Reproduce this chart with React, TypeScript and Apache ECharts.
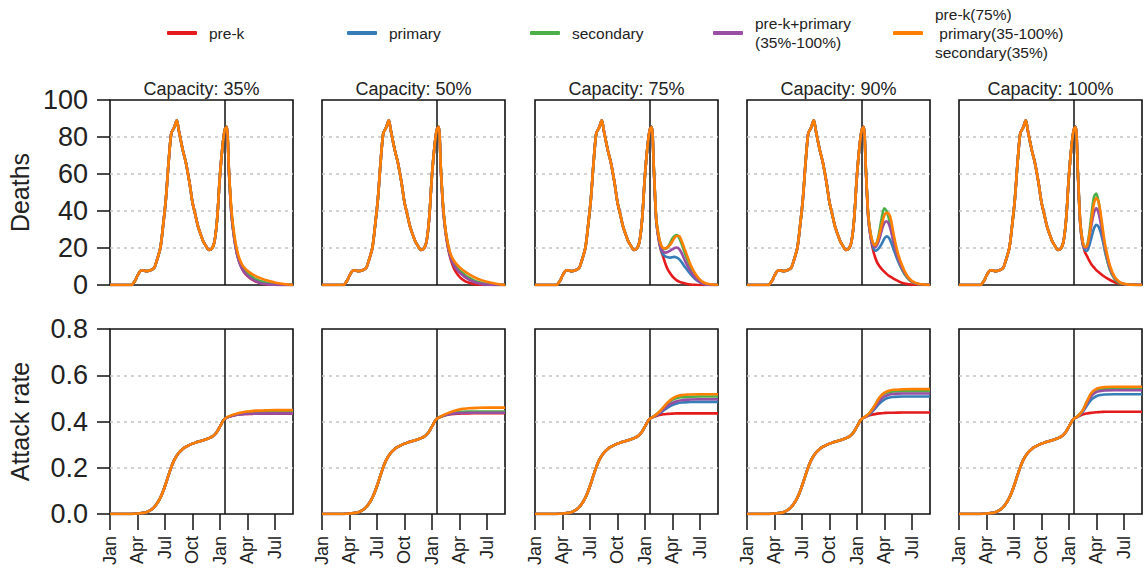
import React, { useEffect, useRef } from "react";
import * as echarts from "echarts";

// ---------- categories / labels ----------
const capacities = [35, 50, 75, 90, 100];
const seriesNames = ["pre-k", "primary", "secondary", "pre-k+primary", "mixed"];
const legendLabels = [
  "pre-k",
  "primary",
  "secondary",
  "pre-k+primary\n(35%-100%)",
  "pre-k(75%)\n primary(35-100%)\nsecondary(35%)",
];
const seriesColors = ["#E41A1C", "#377EB8", "#4DAF4A", "#984EA3", "#FF7F00"];
const tickMonths = [0, 3, 6, 9, 12, 15, 18];
const tickLabels = ["Jan", "Apr", "Jul", "Oct", "Jan", "Apr", "Jul"];
const interventionMonth = 12.55;

// ---------- deaths: shared part (months since Jan, year 1) ----------
const commonDeathMonths = [0, 2.3, 2.7, 3.0, 3.3, 3.6, 4.0, 4.4, 4.8, 5.1, 5.5, 5.8, 6.1, 6.4, 6.7, 7.0, 7.3, 7.5, 7.7, 8.0, 8.3, 8.7, 9.0, 9.3, 9.6, 9.9, 10.2, 10.5, 10.8, 11.1, 11.4, 11.7, 12.0, 12.3, 12.55];
const commonDeaths = [0, 0, 2, 5, 7.5, 8, 7.5, 8, 9, 13, 20, 32, 46, 66, 82, 85, 89, 84, 79, 72, 66, 55, 45, 38.5, 32, 27.5, 23.5, 21, 19, 19.5, 23, 35, 58, 75, 84];

// ---------- deaths after school reopening ----------
const postDeathMonths = [12.75, 13.0, 13.25, 13.5, 13.75, 14.0, 14.25, 14.5, 14.75, 15.0, 15.25, 15.5, 15.75, 16.0, 16.5, 17.0, 17.5, 18.0, 18.5, 19.0, 20.0];

const deathsPreK35 = [85.5, 61, 40, 28, 20, 14.5, 10.8, 8.2, 6.3, 5, 3.9, 3, 2.3, 1.7, 0.9, 0.4, 0.2, 0.1, 0, 0, 0];
const deathsPrimary35 = [85.5, 61, 40, 28, 20, 14.5, 11, 8.5, 6.8, 5.5, 4.4, 3.5, 2.8, 2.2, 1.3, 0.7, 0.4, 0.2, 0.1, 0, 0];
const deathsSecondary35 = [85.5, 62, 41, 29, 21, 15.5, 12, 9.5, 7.8, 6.5, 5.5, 4.5, 3.7, 3, 2, 1.3, 0.8, 0.4, 0.2, 0.1, 0];
const deathsPreKPrimary35 = [85.5, 61, 40, 28, 20, 14.5, 11, 8.3, 6.5, 5.2, 4.1, 3.2, 2.5, 1.9, 1.0, 0.5, 0.2, 0.1, 0, 0, 0];
const deathsMixed35 = [85.5, 62, 42, 30, 22, 16.5, 13, 10.5, 9, 7.8, 6.8, 6, 5.3, 4.6, 3.6, 2.7, 2, 1.4, 0.9, 0.5, 0];

const deathsPreK50 = [85.5, 61, 40.5, 28.5, 20.5, 15, 11, 8.2, 6.2, 4.6, 3.4, 2.5, 1.8, 1.3, 0.6, 0.3, 0.1, 0, 0, 0, 0];
const deathsPrimary50 = [85.5, 61.5, 41, 29, 21.5, 16, 12.5, 10, 8.5, 7.2, 6, 5, 4.1, 3.3, 2.1, 1.2, 0.7, 0.3, 0.1, 0, 0];
const deathsSecondary50 = [85.5, 62, 41.5, 29.5, 22, 17, 13.5, 11, 9.5, 8.2, 7, 6, 5, 4.2, 2.8, 1.8, 1.1, 0.6, 0.3, 0.1, 0];
const deathsPreKPrimary50 = [85.5, 61.5, 41, 29, 21.5, 16, 12.5, 10, 8.3, 7, 5.8, 4.8, 3.9, 3.1, 1.9, 1.1, 0.6, 0.3, 0.1, 0, 0];
const deathsMixed50 = [85.5, 62, 42, 30, 22.5, 17.5, 14.5, 12.5, 11, 9.8, 8.7, 7.7, 6.8, 6, 4.6, 3.4, 2.5, 1.8, 1.2, 0.7, 0];

const deathsPreK75 = [85.5, 61, 35, 25, 19, 15.3, 11.5, 8.5, 6.5, 4.8, 3.5, 2.5, 1.8, 1.3, 0.7, 0.3, 0.1, 0, 0, 0, 0];
const deathsPrimary75 = [85.5, 61, 35, 25.5, 19.5, 16.5, 15.5, 15, 14.8, 15, 15.2, 14.8, 14, 12.5, 9, 5.8, 3.2, 1.5, 0.5, 0.2, 0];
const deathsSecondary75 = [85.5, 62, 36, 27, 21.5, 19.5, 19.5, 20.5, 22.5, 25, 26.5, 27, 25.5, 22.5, 15.5, 9.5, 5, 2.2, 0.8, 0.3, 0];
const deathsPreKPrimary75 = [85.5, 61, 35, 26, 20.5, 18, 17.5, 17.8, 18.5, 19.2, 20, 20.3, 19.5, 17.5, 12, 7.5, 4, 1.8, 0.6, 0.2, 0];
const deathsMixed75 = [85.5, 62, 36, 27, 22, 20, 19.8, 20.5, 21.6, 23.5, 25.5, 26.5, 26.5, 24, 17.5, 11, 6.2, 3, 1.2, 0.5, 0];

const deathsPreK90 = [85.5, 61, 36.5, 26, 19.5, 15, 12, 10, 8.5, 7.2, 6, 5, 4.2, 3.5, 2.2, 1.1, 0.5, 0.2, 0.1, 0, 0];
const deathsPrimary90 = [85.5, 61, 37, 26.5, 21, 18.5, 19, 20.5, 22.5, 25, 26.3, 25.5, 23, 19.5, 13, 7.8, 4.2, 1.9, 0.8, 0.3, 0];
const deathsSecondary90 = [85.5, 62, 38, 28, 23, 21.5, 24, 30, 37, 41.5, 40, 36, 30, 24, 14.5, 8, 4, 1.8, 0.7, 0.3, 0];
const deathsPreKPrimary90 = [85.5, 61, 37, 27, 22, 20.5, 22, 25.5, 30, 33.5, 34.5, 33, 29, 23.5, 14.5, 8.5, 4.5, 2, 0.8, 0.3, 0];
const deathsMixed90 = [85.5, 62, 38, 28, 23, 21.5, 23.5, 28, 33, 37.5, 39, 38.5, 35, 28, 17, 10, 5, 2.3, 1, 0.4, 0];

const deathsPreK100 = [85.5, 59, 33, 22.5, 18, 15.5, 13, 11, 9.5, 8, 7, 6, 5, 4.2, 2.7, 1.5, 0.8, 0.4, 0.2, 0.1, 0];
const deathsPrimary100 = [85.5, 59, 33, 22.5, 19, 18.5, 21.5, 26, 30.5, 32.5, 31.5, 28, 23, 17, 8.5, 3.8, 1.5, 0.6, 0.2, 0.1, 0];
const deathsSecondary100 = [85.5, 60, 34, 24, 20.5, 21.5, 28.5, 39, 47.5, 49.5, 45, 36, 26.5, 18, 8, 3.3, 1.2, 0.5, 0.2, 0, 0];
const deathsPreKPrimary100 = [85.5, 60, 34, 23.5, 20, 20.5, 26, 33, 39, 41.5, 39, 33, 26, 19, 9, 4, 1.6, 0.6, 0.2, 0.1, 0];
const deathsMixed100 = [85.5, 60, 34, 24, 20.5, 21, 27, 36, 44, 47, 45, 38, 29, 21, 10.5, 4.5, 1.8, 0.7, 0.3, 0.1, 0];

// ---------- attack rate: shared part ----------
const commonAttackMonths = [0, 2, 3, 3.5, 4, 4.5, 5, 5.5, 6, 6.5, 7, 7.5, 8, 8.5, 9, 9.5, 10, 10.5, 11, 11.5, 12];
const commonAttack = [0, 0, 0.002, 0.004, 0.008, 0.018, 0.038, 0.07, 0.12, 0.18, 0.232, 0.264, 0.283, 0.295, 0.304, 0.311, 0.317, 0.323, 0.331, 0.346, 0.377];

// ---------- attack rate after reopening ----------
const postAttackMonths = [12.5, 13, 13.5, 14, 14.5, 15, 15.5, 16, 17, 18, 20];

const attackPreK35 = [0.41, 0.42, 0.426, 0.43, 0.432, 0.433, 0.433, 0.434, 0.434, 0.434, 0.434];
const attackPrimary35 = [0.41, 0.42, 0.427, 0.431, 0.433, 0.435, 0.436, 0.436, 0.437, 0.437, 0.437];
const attackSecondary35 = [0.41, 0.421, 0.428, 0.433, 0.436, 0.438, 0.44, 0.441, 0.441, 0.441, 0.441];
const attackPreKPrimary35 = [0.41, 0.42, 0.426, 0.43, 0.432, 0.433, 0.434, 0.434, 0.435, 0.435, 0.435];
const attackMixed35 = [0.41, 0.422, 0.43, 0.436, 0.44, 0.443, 0.445, 0.447, 0.448, 0.449, 0.449];

const attackPreK50 = [0.41, 0.42, 0.427, 0.431, 0.433, 0.434, 0.435, 0.435, 0.436, 0.436, 0.436];
const attackPrimary50 = [0.41, 0.421, 0.428, 0.433, 0.436, 0.438, 0.439, 0.44, 0.44, 0.44, 0.44];
const attackSecondary50 = [0.41, 0.421, 0.429, 0.435, 0.439, 0.441, 0.442, 0.443, 0.443, 0.443, 0.443];
const attackPreKPrimary50 = [0.41, 0.421, 0.428, 0.433, 0.435, 0.437, 0.437, 0.438, 0.438, 0.438, 0.438];
const attackMixed50 = [0.41, 0.422, 0.432, 0.44, 0.447, 0.452, 0.455, 0.457, 0.459, 0.46, 0.46];

const attackPreK75 = [0.41, 0.42, 0.427, 0.431, 0.433, 0.434, 0.435, 0.435, 0.435, 0.435, 0.435];
const attackPrimary75 = [0.41, 0.421, 0.432, 0.446, 0.46, 0.471, 0.478, 0.482, 0.484, 0.485, 0.485];
const attackSecondary75 = [0.41, 0.423, 0.438, 0.458, 0.478, 0.493, 0.501, 0.505, 0.507, 0.508, 0.508];
const attackPreKPrimary75 = [0.41, 0.422, 0.435, 0.451, 0.468, 0.48, 0.488, 0.492, 0.495, 0.496, 0.496];
const attackMixed75 = [0.41, 0.423, 0.439, 0.46, 0.482, 0.499, 0.509, 0.514, 0.517, 0.518, 0.518];

const attackPreK90 = [0.41, 0.42, 0.428, 0.432, 0.435, 0.437, 0.438, 0.438, 0.439, 0.439, 0.439];
const attackPrimary90 = [0.41, 0.421, 0.435, 0.456, 0.479, 0.495, 0.503, 0.506, 0.508, 0.508, 0.508];
const attackSecondary90 = [0.41, 0.423, 0.442, 0.472, 0.503, 0.52, 0.527, 0.53, 0.531, 0.531, 0.531];
const attackPreKPrimary90 = [0.41, 0.422, 0.438, 0.463, 0.49, 0.508, 0.516, 0.519, 0.521, 0.521, 0.521];
const attackMixed90 = [0.41, 0.423, 0.442, 0.472, 0.505, 0.524, 0.533, 0.537, 0.539, 0.54, 0.54];

const attackPreK100 = [0.41, 0.421, 0.43, 0.435, 0.438, 0.44, 0.441, 0.442, 0.442, 0.442, 0.442];
const attackPrimary100 = [0.41, 0.422, 0.44, 0.47, 0.496, 0.509, 0.515, 0.517, 0.518, 0.518, 0.518];
const attackSecondary100 = [0.41, 0.424, 0.447, 0.488, 0.522, 0.536, 0.54, 0.541, 0.542, 0.542, 0.542];
const attackPreKPrimary100 = [0.41, 0.423, 0.444, 0.481, 0.512, 0.527, 0.532, 0.534, 0.535, 0.535, 0.535];
const attackMixed100 = [0.41, 0.424, 0.447, 0.488, 0.525, 0.541, 0.547, 0.549, 0.55, 0.55, 0.55];

// ---------- tables built from the arrays ----------
const deathsByPanel = [
  [deathsPreK35, deathsPrimary35, deathsSecondary35, deathsPreKPrimary35, deathsMixed35],
  [deathsPreK50, deathsPrimary50, deathsSecondary50, deathsPreKPrimary50, deathsMixed50],
  [deathsPreK75, deathsPrimary75, deathsSecondary75, deathsPreKPrimary75, deathsMixed75],
  [deathsPreK90, deathsPrimary90, deathsSecondary90, deathsPreKPrimary90, deathsMixed90],
  [deathsPreK100, deathsPrimary100, deathsSecondary100, deathsPreKPrimary100, deathsMixed100],
];
const attackByPanel = [
  [attackPreK35, attackPrimary35, attackSecondary35, attackPreKPrimary35, attackMixed35],
  [attackPreK50, attackPrimary50, attackSecondary50, attackPreKPrimary50, attackMixed50],
  [attackPreK75, attackPrimary75, attackSecondary75, attackPreKPrimary75, attackMixed75],
  [attackPreK90, attackPrimary90, attackSecondary90, attackPreKPrimary90, attackMixed90],
  [attackPreK100, attackPrimary100, attackSecondary100, attackPreKPrimary100, attackMixed100],
];

function joinPairs(xa: number[], ya: number[], xb: number[], yb: number[]) {
  const out: number[][] = [];
  xa.forEach((x, i) => out.push([x, ya[i]]));
  xb.forEach((x, i) => out.push([x, yb[i]]));
  return out;
}

// ---------- layout ----------
const FONT = '"Liberation Sans", Arial, Helvetica, sans-serif';
const PANEL_LEFTS = [110, 322, 535, 747, 959];
const PANEL_W = 183;
const PANEL_H = 185;
const TOP_ROW = 100;
const BOTTOM_ROW = 329;
const LEGEND_LEFTS = [167, 347, 530, 713, 893];
const LEGEND_TOPS = [23.5, 23.5, 23.5, 14, 4.5];

function buildOption() {
  const grid: any[] = [];
  const xAxis: any[] = [];
  const yAxis: any[] = [];
  const series: any[] = [];
  const graphic: any[] = [];

  const gridLine = { show: true, showMinLine: false, showMaxLine: false, lineStyle: { color: "#c4c4c4", type: [3, 4], width: 1.5 } };

  for (let row = 0; row < 2; row++) {
    for (let c = 0; c < 5; c++) {
      const idx = row * 5 + c;
      grid.push({
        left: PANEL_LEFTS[c],
        top: row === 0 ? TOP_ROW : BOTTOM_ROW,
        width: PANEL_W,
        height: PANEL_H,
        show: true,
        borderColor: "#111",
        borderWidth: 1.6,
        backgroundColor: "transparent",
        containLabel: false,
      });
      xAxis.push({
        type: "value",
        gridIndex: idx,
        min: 0,
        max: 20,
        axisLine: { show: false },
        splitLine: { show: false },
        axisTick: row === 1
          ? { show: true, length: 16, customValues: tickMonths, lineStyle: { color: "#111", width: 1.5 } }
          : { show: false },
        axisLabel: row === 1
          ? {
              show: true,
              customValues: tickMonths,
              rotate: 90,
              margin: 22,
              fontSize: 18,
              color: "#222",
              fontFamily: FONT,
              formatter: (v: number) => {
                const k = tickMonths.indexOf(Math.round(v));
                return k >= 0 ? tickLabels[k] : "";
              },
            }
          : { show: false },
      });
      const isFirst = c === 0;
      yAxis.push({
        type: "value",
        gridIndex: idx,
        min: 0,
        max: row === 0 ? 100 : 0.8,
        interval: row === 0 ? 20 : 0.2,
        axisLine: { show: false },
        splitLine: gridLine,
        axisTick: isFirst ? { show: true, length: 13, lineStyle: { color: "#111", width: 1.5 } } : { show: false },
        axisLabel: isFirst
          ? {
              show: true,
              fontSize: 27,
              margin: 22,
              color: "#222",
              fontFamily: FONT,
              formatter: (v: number) => (row === 0 ? String(Math.round(v)) : v.toFixed(1)),
            }
          : { show: false },
        name: isFirst ? (row === 0 ? "Deaths" : "Attack rate") : "",
        nameLocation: "middle",
        nameRotate: 90,
        nameGap: 78,
        nameTextStyle: { fontSize: 25, color: "#222", fontFamily: FONT },
      });

      for (let s = 0; s < 5; s++) {
        const data = row === 0
          ? joinPairs(commonDeathMonths, commonDeaths, postDeathMonths, deathsByPanel[c][s])
          : joinPairs(commonAttackMonths, commonAttack, postAttackMonths, attackByPanel[c][s]);
        const sObj: any = {
          type: "line",
          name: seriesNames[s],
          xAxisIndex: idx,
          yAxisIndex: idx,
          data,
          showSymbol: false,
          smooth: row === 0 ? 0.3 : 0.45,
          clip: true,
          lineStyle: { color: seriesColors[s], width: 2.6 },
          itemStyle: { color: seriesColors[s] },
          emphasis: { disabled: true },
          z: 2 + s,
        };
        if (s === 0) {
          sObj.markLine = {
            silent: true,
            symbol: ["none", "none"],
            label: { show: false },
            lineStyle: { color: "#111", width: 1.5, type: "solid" },
            data: [{ xAxis: interventionMonth }],
          };
        }
        series.push(sObj);
      }
    }
  }

  capacities.forEach((cap, c) => {
    graphic.push({
      type: "text",
      x: PANEL_LEFTS[c] + PANEL_W / 2,
      y: 89,
      style: {
        text: `Capacity: ${cap}%`,
        textAlign: "center",
        textVerticalAlign: "middle",
        fontSize: 18,
        fontFamily: FONT,
        fill: "#222",
      },
    });
  });

  const legend = seriesNames.map((name, s) => ({
    data: [name],
    left: LEGEND_LEFTS[s],
    top: LEGEND_TOPS[s],
    padding: 0,
    icon: "roundRect",
    itemWidth: 30,
    itemHeight: 4,
    selectedMode: false,
    formatter: () => legendLabels[s],
    textStyle: { fontSize: 15.5, lineHeight: 19, color: "#222", fontFamily: FONT, padding: [0, 0, 0, 7] },
  }));

  return {
    animation: false,
    backgroundColor: "#fff",
    textStyle: { fontFamily: FONT },
    grid,
    xAxis,
    yAxis,
    series,
    legend,
    graphic,
  };
}

export default function App() {
  const ref = useRef<HTMLDivElement>(null);
  useEffect(() => {
    if (!ref.current) return;
    const chart = echarts.init(ref.current, undefined, { renderer: "svg" });
    chart.setOption(buildOption() as any);
    return () => chart.dispose();
  }, []);
  return (
    <div
      ref={ref}
      style={{ position: "fixed", left: 0, top: 0, width: 1147, height: 574, background: "#fff" }}
    />
  );
}
